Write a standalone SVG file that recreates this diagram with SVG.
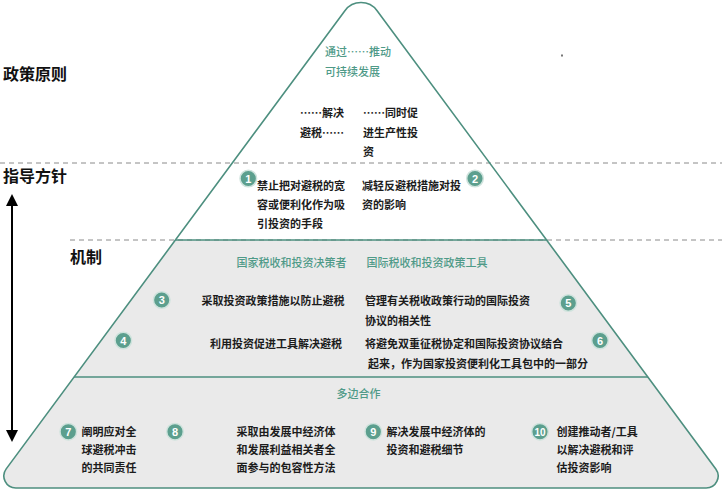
<svg xmlns="http://www.w3.org/2000/svg" width="722" height="494" viewBox="0 0 722 494">
<style>
.lbl{font-family:"Noto Sans CJK SC","Liberation Sans",sans-serif;font-size:16px;font-weight:bold;fill:#111}
.t{font-family:"Noto Sans CJK SC","Liberation Sans",sans-serif;font-size:11px;font-weight:bold;fill:#1c1c1c}
.h{font-family:"Noto Sans CJK SC","Liberation Sans",sans-serif;font-size:11px;font-weight:500;fill:#4f9a88}
.c{fill:#5c9f8e;stroke:#cfe3dd;stroke-width:1.5}
.n{font-family:"Liberation Sans",Arial,sans-serif;font-size:11px;font-weight:bold;fill:#fff;text-anchor:middle}
.dash{stroke:#8a8a8a;stroke-width:1;stroke-dasharray:5 4;fill:none}
.edge{stroke:#4d8f7f;stroke-width:1.6;fill:none}
</style>
<defs>
<path id="pyr" d="M344.9,10.7 A20 20 0 0 1 377.1,10.7 L715.8,468.9 A12 12 0 0 1 706.2,488 L15.8,488 A12 12 0 0 1 6.2,468.9 Z"/>
<clipPath id="pc"><use href="#pyr"/></clipPath>
</defs>
<rect width="722" height="494" fill="#fff"/>
<g id="pyramid">
<use href="#pyr" fill="#fff"/>
<rect x="0" y="240" width="722" height="254" fill="#eaeaea" clip-path="url(#pc)"/>
</g>
<g id="guides">
<line class="dash" x1="0" y1="163" x2="722" y2="163"/>
<line class="dash" x1="70" y1="240" x2="722" y2="240"/>
<rect x="561" y="54.5" width="2" height="2" fill="#777"/>
</g>
<g id="tier-lines">
<line class="edge" x1="175.3" y1="240" x2="546.7" y2="240"/>
<line class="edge" x1="73.9" y1="377" x2="648.1" y2="377"/>
<use href="#pyr" class="edge"/>
</g>
<g id="label-policy"><text class="lbl" x="3" y="80">政策原则</text></g>
<g id="label-guide"><text class="lbl" x="3" y="182">指导方针</text></g>
<g id="label-mech"><text class="lbl" x="70" y="263">机制</text></g>
<g id="connectors">
<line x1="12" y1="204" x2="12" y2="432" stroke="#000" stroke-width="2"/>
<polygon points="12,194 6,206 18,206" fill="#000"/>
<polygon points="12,442 6,430 18,430" fill="#000"/>
</g>
<g id="top">
<text class="h" x="325" y="56">通过……推动</text>
<text class="h" x="325" y="76">可持续发展</text>
<text class="t" x="300" y="117">……解决</text>
<text class="t" x="300" y="137">避税……</text>
<text class="t" x="363" y="117">……同时促</text>
<text class="t" x="363" y="137">进生产性投</text>
<text class="t" x="363" y="156">资</text>
</g>
<g id="node-1">
<circle class="c" cx="248.3" cy="178.5" r="8.3"/><text class="n" x="248.3" y="182.5">1</text>
<text class="t" x="257" y="190">禁止把对避税的宽</text>
<text class="t" x="257" y="209">容或便利化作为吸</text>
<text class="t" x="257" y="228">引投资的手段</text>
</g>
<g id="node-2">
<circle class="c" cx="475" cy="178.5" r="8.3"/><text class="n" x="475" y="182.5">2</text>
<text class="t" x="362" y="190">减轻反避税措施对投</text>
<text class="t" x="362" y="209">资的影响</text>
</g>
<g id="mech-heads">
<text class="h" x="236.5" y="267">国家税收和投资决策者</text>
<text class="h" x="366.5" y="267">国际税收和投资政策工具</text>
</g>
<g id="node-3">
<circle class="c" cx="161.7" cy="300" r="8.3"/><text class="n" x="161.7" y="304">3</text>
<text class="t" x="201.5" y="305">采取投资政策措施以防止避税</text>
</g>
<g id="node-4">
<circle class="c" cx="123.3" cy="340.5" r="8.3"/><text class="n" x="123.3" y="344.5">4</text>
<text class="t" x="210" y="348">利用投资促进工具解决避税</text>
</g>
<g id="node-5">
<circle class="c" cx="568.3" cy="303" r="8.3"/><text class="n" x="568.3" y="307">5</text>
<text class="t" x="365" y="305">管理有关税收政策行动的国际投资</text>
<text class="t" x="365" y="325">协议的相关性</text>
</g>
<g id="node-6">
<circle class="c" cx="600" cy="340.5" r="8.3"/><text class="n" x="600" y="344.5">6</text>
<text class="t" x="365" y="348">将避免双重征税协定和国际投资协议结合</text>
<text class="t" x="368" y="368">起来，作为国家投资便利化工具包中的一部分</text>
</g>
<g id="multi-head"><text class="h" x="336.5" y="398">多边合作</text></g>
<g id="node-7">
<circle class="c" cx="68.3" cy="431.7" r="8.3"/><text class="n" x="68.3" y="435.7">7</text>
<text class="t" x="81.5" y="436">阐明应对全</text>
<text class="t" x="81.5" y="454">球避税冲击</text>
<text class="t" x="81.5" y="472">的共同责任</text>
</g>
<g id="node-8">
<circle class="c" cx="175" cy="431.7" r="8.3"/><text class="n" x="175" y="435.7">8</text>
<text class="t" x="236.5" y="436">采取由发展中经济体</text>
<text class="t" x="236.5" y="454">和发展利益相关者全</text>
<text class="t" x="236.5" y="472">面参与的包容性方法</text>
</g>
<g id="node-9">
<circle class="c" cx="373.3" cy="431.7" r="8.3"/><text class="n" x="373.3" y="435.7">9</text>
<text class="t" x="386.5" y="436">解决发展中经济体的</text>
<text class="t" x="386.5" y="454">投资和避税细节</text>
</g>
<g id="node-10">
<circle class="c" cx="540" cy="431.7" r="8.3"/><text class="n" x="540" y="435.5" style="font-size:10px">10</text>
<text class="t" x="556.5" y="436">创建推动者/工具</text>
<text class="t" x="556.5" y="454">以解决避税和评</text>
<text class="t" x="556.5" y="472">估投资影响</text>
</g>
</svg>
